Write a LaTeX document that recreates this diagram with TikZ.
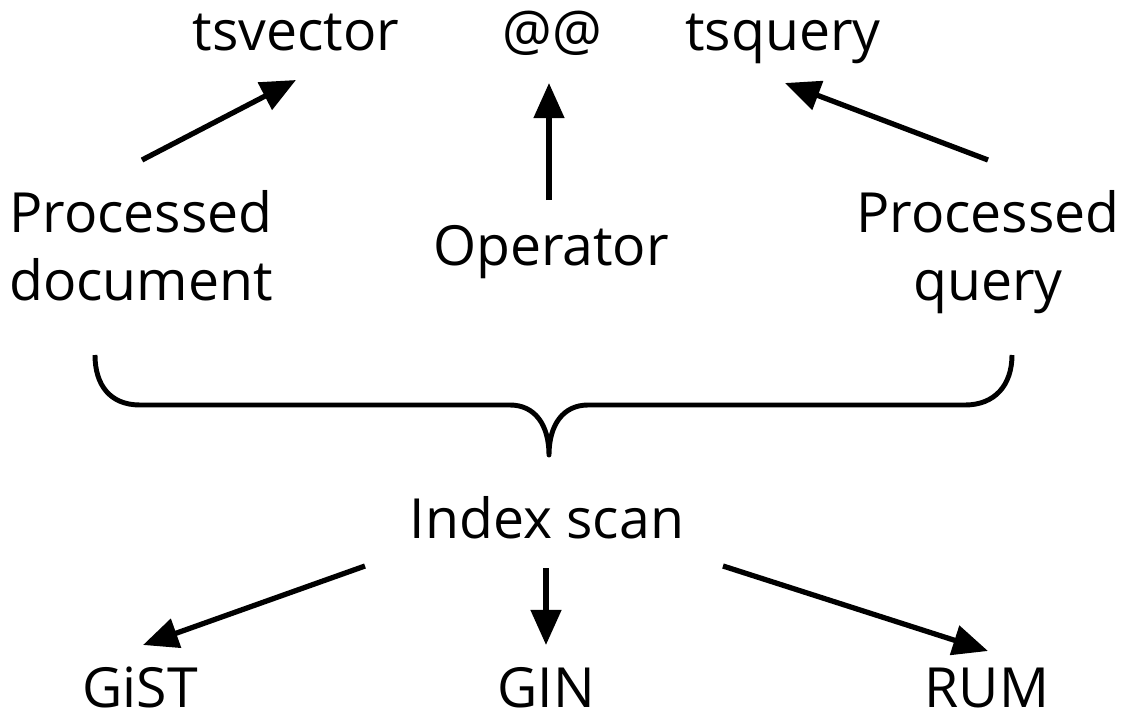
\documentclass[tikz,border=0pt]{standalone}
\usepackage{fontspec}
\setmainfont{Open Sans}
\usetikzlibrary{arrows.meta}
\begin{document}
\begin{tikzpicture}[x=0.02cm,y=-0.02cm,
  lbl/.style={inner sep=0pt,anchor=base,align=center,font=\fontsize{31.5}{38.6}\selectfont},
  arr/.style={line width=3pt,-{Triangle[length=20pt,width=17pt]}},
  brace/.style={line width=2.8pt,line join=round}]
\useasboundingbox (0,0) rectangle (1127,727);
\node[lbl] (tsv) at (296,50) {tsvector};
\node[lbl] (at) at (552,50) {@@};
\node[lbl] (tsq) at (783,50) {tsquery};
\node[lbl] (pd) at (141,300) {Processed\\document};
\node[lbl] (op) at (551,265) {Operator};
\node[lbl] (pq) at (988,300) {Processed\\query};
\node[lbl] (idx) at (547,538) {Index scan};
\node[lbl] (gist) at (140,707) {GiST};
\node[lbl] (gin) at (546,707) {GIN};
\node[lbl] (rum) at (987,707) {RUM};
\draw[arr] ([shift={(1,-140)}]pd.base) -- ([shift={(0,30)}]tsv.base);
\draw[arr] ([shift={(-2,-65)}]op.base) -- ([shift={(-3,33)}]at.base);
\draw[arr] ([shift={(0,-140)}]pq.base) -- ([shift={(2,33)}]tsq.base);
\draw[arr] ([shift={(-182,28)}]idx.base) -- ([shift={(3,-62)}]gist.base);
\draw[arr] ([shift={(-1,30)}]idx.base) -- ([shift={(0,-62)}]gin.base);
\draw[arr] ([shift={(176,28)}]idx.base) -- ([shift={(1,-56)}]rum.base);
\draw[brace] (95,355) .. controls (95,385) and (110,405) .. (140,405) -- (510,405)
  .. controls (535,405) and (549,425) .. (549,455)
  .. controls (549,425) and (563,405) .. (588,405) -- (965,405)
  .. controls (995,405) and (1012,385) .. (1012,355);
\end{tikzpicture}
\end{document}
